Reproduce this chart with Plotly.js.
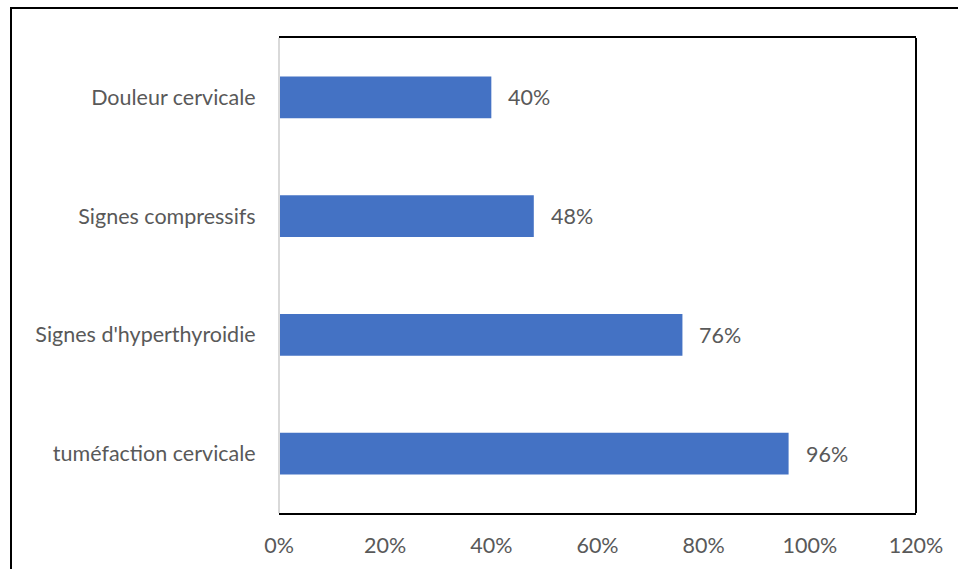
<!DOCTYPE html>
<html>
<head>
<meta charset="utf-8">
<script src="https://cdn.plot.ly/plotly-3.0.1.min.js"></script>
<style>
html,body{margin:0;padding:0;background:#fff;overflow:hidden;}
#chart{width:958px;height:569px;position:absolute;left:0;top:0;}
#frame{position:absolute;left:10px;top:7px;width:1000px;height:600px;border:2px solid #000;pointer-events:none;box-sizing:border-box;}
</style>
</head>
<body>
<div id="chart"></div>
<div id="frame"></div>
<script>
const categories = ["tuméfaction cervicale", "Signes d'hyperthyroidie", "Signes compressifs", "Douleur cervicale"];
const values = [0.96, 0.76, 0.48, 0.40];
const tickValues = [0, 0.2, 0.4, 0.6, 0.8, 1.0, 1.2];
const tickLabels = ["0%", "20%", "40%", "60%", "80%", "100%", "120%"];

const fontFamily = "Lato, 'Open Sans', sans-serif";
const fontSize = 21.5;
const textColor = "#595959";

const trace = {
  type: "bar",
  orientation: "h",
  y: categories,
  x: values,
  marker: {color: "#4472C4"},
  hoverinfo: "none"
};

const annotations = values.map((v, i) => ({
  x: v, y: categories[i], xref: "x", yref: "y",
  text: Math.round(v * 100) + "%",
  showarrow: false, xanchor: "left", xshift: 15,
  font: {family: fontFamily, size: fontSize, color: textColor}
}));

const layout = {
  width: 958, height: 569,
  margin: {l: 279, r: 42, t: 38, b: 56},
  paper_bgcolor: "#fff", plot_bgcolor: "#fff",
  showlegend: false,
  bargap: 0.65,
  font: {family: fontFamily, size: fontSize, color: textColor},
  xaxis: {
    range: [0, 1.2], tickvals: tickValues, ticktext: tickLabels,
    showgrid: false, zeroline: false,
    showline: true, linecolor: "#000", linewidth: 2, mirror: true,
    ticks: "outside", ticklen: 12, tickcolor: "rgba(0,0,0,0)",
    tickfont: {family: fontFamily, size: fontSize, color: textColor},
    fixedrange: true
  },
  yaxis: {
    type: "category", categoryorder: "array", categoryarray: categories,
    showgrid: false, zeroline: false, showline: false,
    ticks: "outside", ticklen: 18, tickcolor: "rgba(0,0,0,0)",
    tickfont: {family: fontFamily, size: fontSize, color: textColor},
    fixedrange: true
  },
  shapes: [
    {type: "line", xref: "paper", yref: "paper", x0: 1, x1: 1, y0: 0, y1: 1, line: {color: "#000", width: 2}},
    {type: "line", xref: "paper", yref: "paper", x0: 0, x1: 0, y0: 0, y1: 1, line: {color: "#d9d9d9", width: 2}}
  ],
  annotations: annotations
};

Plotly.newPlot("chart", [trace], layout, {displayModeBar: false, staticPlot: true});
</script>
</body>
</html>
